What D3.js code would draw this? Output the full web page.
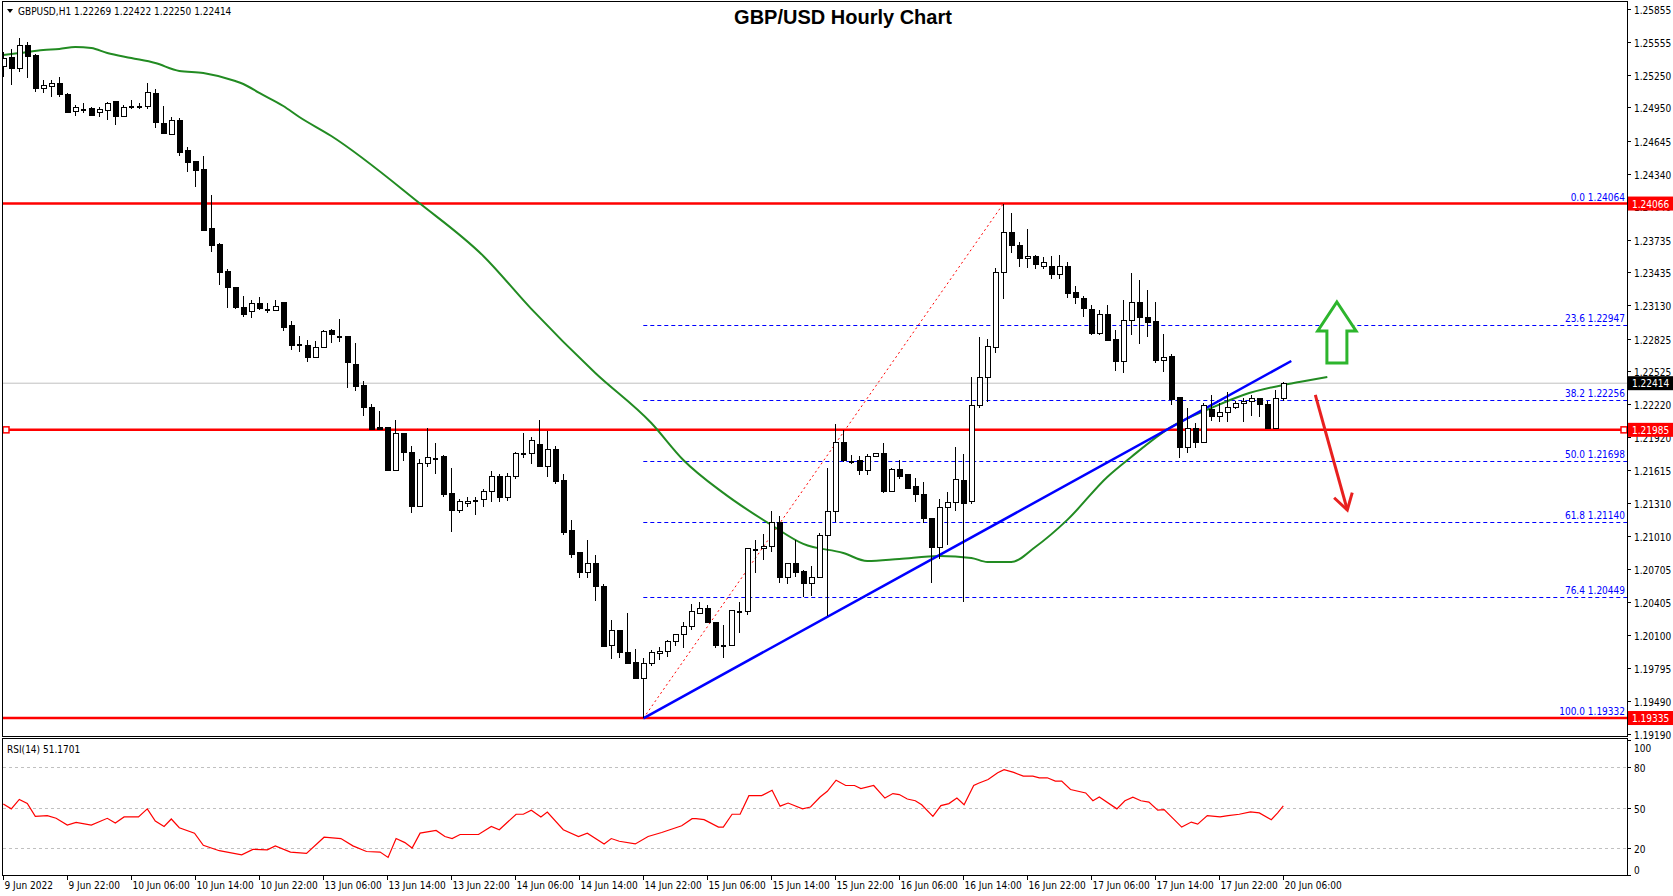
<!DOCTYPE html>
<html>
<head>
<meta charset="utf-8">
<script src="https://cdn.jsdelivr.net/npm/d3@7"></script>
<style>
  body { margin: 0; background: #fff; }
  text { font-family: "DejaVu Sans Condensed", "DejaVu Sans", sans-serif; }
</style>
</head>
<body>
<svg id="chart" width="1673" height="896"></svg>
<script>
// hourly candles, bar 0 = 9 Jun 14:00
const open = [1.2533,1.2541,1.2531,1.2552,1.2543,1.2512,1.2514,1.2517,1.2507,1.2491,
  1.2494,1.2494,1.2490,1.2492,1.2500,1.2487,1.2495,1.2496,1.2496,1.2508,
  1.2480,1.2470,1.2483,1.2455,1.2445,1.2438,1.2384,1.2369,1.2344,1.2329,
  1.2311,1.2307,1.2315,1.2310,1.2308,1.2316,1.2294,1.2276,1.2276,1.2265,
  1.2274,1.2290,1.2285,1.2284,1.2259,1.2239,1.2219,1.2201,1.2201,1.2161,
  1.2195,1.2178,1.2128,1.2168,1.2173,1.2174,1.2140,1.2124,1.2131,1.2133,
  1.2134,1.2142,1.2156,1.2136,1.2156,1.2177,1.2177,1.2185,1.2165,1.2180,
  1.2152,1.2106,1.2086,1.2067,1.2076,1.2054,1.2000,1.2014,1.1994,1.1985,
  1.1970,1.1984,1.1993,1.1995,1.2004,1.2010,1.2018,1.2030,1.2034,1.2021,
  1.2001,1.2000,1.2032,1.2031,1.2088,1.2089,1.2091,1.2113,1.2063,1.2076,
  1.2068,1.2057,1.2063,1.2101,1.2123,1.2187,1.2170,1.2170,1.2161,1.2174,
  1.2177,1.2142,1.2162,1.2157,1.2146,1.2139,1.2117,1.2090,1.2127,1.2132,
  1.2152,1.2133,1.2221,1.2247,1.2274,1.2343,1.2380,1.2368,1.2356,1.2358,
  1.2349,1.2349,1.2341,1.2349,1.2325,1.2319,1.2309,1.2287,1.2305,1.2282,
  1.2261,1.2299,1.2316,1.2302,1.2298,1.2262,1.2266,1.2228,1.2182,1.2200,
  1.2187,1.2217,1.2211,1.2214,1.2219,1.2223,1.2225,1.2227,1.2222,1.2200,1.22269];
const high = [1.2546,1.2549,1.2559,1.2555,1.2544,1.2520,1.2520,1.2523,1.2508,1.2497,
  1.2499,1.2495,1.2495,1.2500,1.2500,1.2497,1.2502,1.2499,1.2517,1.2512,
  1.2496,1.2486,1.2485,1.2459,1.2445,1.2450,1.2414,1.2370,1.2346,1.2329,
  1.2322,1.2318,1.2321,1.2315,1.2318,1.2316,1.2299,1.2285,1.2281,1.2280,
  1.2290,1.2291,1.2300,1.2285,1.2278,1.2243,1.2222,1.2216,1.2201,1.2208,
  1.2196,1.2184,1.2172,1.2200,1.2186,1.2175,1.2163,1.2135,1.2137,1.2137,
  1.2144,1.2161,1.2158,1.2159,1.2178,1.2196,1.2192,1.2208,1.2197,1.2184,
  1.2158,1.2116,1.2086,1.2097,1.2083,1.2057,1.2024,1.2014,1.2030,1.1997,
  1.1989,1.1996,1.1999,1.2005,1.2011,1.2022,1.2038,1.2040,1.2037,1.2022,
  1.2019,1.2032,1.2040,1.2089,1.2097,1.2103,1.2124,1.2119,1.2076,1.2097,
  1.2070,1.2073,1.2104,1.2163,1.2204,1.2198,1.2175,1.2174,1.2176,1.2177,
  1.2186,1.2163,1.2171,1.2157,1.2154,1.2151,1.2117,1.2135,1.2141,1.2183,
  1.2176,1.2247,1.2284,1.2282,1.2347,1.24064,1.2398,1.2371,1.2383,1.2359,
  1.2357,1.2358,1.2359,1.2353,1.2331,1.2322,1.2313,1.2309,1.2313,1.2290,
  1.2318,1.2343,1.2336,1.2327,1.2316,1.2287,1.2268,1.2229,1.2219,1.2205,
  1.2223,1.2231,1.2223,1.2233,1.2225,1.2228,1.2231,1.2228,1.2225,1.2235,1.22422];
const low = [1.2523,1.2516,1.2528,1.2522,1.2509,1.2508,1.2505,1.2505,1.2490,1.2487,
  1.2490,1.2487,1.2486,1.2483,1.2479,1.2486,1.2494,1.2494,1.2494,1.2476,
  1.2471,1.2470,1.2450,1.2436,1.2422,1.2382,1.2362,1.2332,1.2311,1.2310,
  1.2302,1.2301,1.2309,1.2306,1.2308,1.2289,1.2272,1.2270,1.2261,1.2265,
  1.2274,1.2278,1.2279,1.2237,1.2234,1.2211,1.2199,1.2198,1.2161,1.2161,
  1.2170,1.2122,1.2128,1.2164,1.2158,1.2137,1.2105,1.2122,1.2128,1.2120,
  1.2128,1.2132,1.2132,1.2133,1.2153,1.2173,1.2167,1.2164,1.2155,1.2149,
  1.2102,1.2081,1.2062,1.2062,1.2041,1.1999,1.1988,1.1989,1.1984,1.1969,
  1.19332,1.1981,1.1987,1.1990,1.2000,1.1998,1.2014,1.2029,1.2021,1.1998,
  1.1989,1.2000,1.2012,1.2028,1.2067,1.2079,1.2086,1.2058,1.2057,1.2063,
  1.2045,1.2046,1.2062,1.2027,1.2114,1.2169,1.2167,1.2157,1.2157,1.2174,
  1.2140,1.2141,1.2153,1.2145,1.2132,1.2113,1.2058,1.2080,1.2093,1.2124,
  1.2040,1.2130,1.2219,1.2224,1.2269,1.2319,1.2361,1.2348,1.2347,1.2346,
  1.2346,1.2337,1.2337,1.2320,1.2314,1.2302,1.2286,1.2286,1.2280,1.2253,
  1.2251,1.2286,1.2277,1.2284,1.2260,1.2252,1.2221,1.2173,1.2177,1.2182,
  1.2186,1.2207,1.2206,1.2206,1.2218,1.2206,1.2211,1.2210,1.2200,1.2200,1.22250];
const close = [1.2540,1.2531,1.2552,1.2542,1.2512,1.2515,1.2517,1.2507,1.2490,1.2495,
  1.2494,1.2488,1.2493,1.2499,1.2487,1.2495,1.2496,1.2495,1.2509,1.2481,
  1.2471,1.2483,1.2454,1.2444,1.2437,1.2382,1.2368,1.2343,1.2329,1.2311,
  1.2305,1.2315,1.2310,1.2309,1.2312,1.2293,1.2276,1.2277,1.2265,1.2274,
  1.2289,1.2286,1.2285,1.2260,1.2238,1.2219,1.2199,1.2199,1.2161,1.2195,
  1.2178,1.2128,1.2168,1.2173,1.2173,1.2139,1.2124,1.2133,1.2133,1.2134,
  1.2142,1.2156,1.2136,1.2156,1.2177,1.2177,1.2189,1.2165,1.2180,1.2151,
  1.2104,1.2084,1.2067,1.2076,1.2054,1.1999,1.2014,1.1994,1.1984,1.1970,
  1.1984,1.1994,1.1995,1.2004,1.2010,1.2018,1.2031,1.2034,1.2021,1.2000,
  1.2001,1.2032,1.2031,1.2089,1.2089,1.2091,1.2113,1.2063,1.2076,1.2067,
  1.2057,1.2063,1.2101,1.2123,1.2187,1.2170,1.2170,1.2161,1.2174,1.2177,
  1.2142,1.2162,1.2156,1.2145,1.2139,1.2117,1.2090,1.2127,1.2132,1.2153,
  1.2131,1.2221,1.2247,1.2275,1.2343,1.2380,1.2368,1.2356,1.2358,1.2351,
  1.2352,1.2341,1.2349,1.2324,1.2320,1.2310,1.2287,1.2305,1.2281,1.2261,
  1.2299,1.2316,1.2302,1.2297,1.2262,1.2265,1.2226,1.2182,1.2200,1.2187,
  1.2221,1.2211,1.2214,1.2219,1.2223,1.2225,1.2227,1.2222,1.2200,1.2227,1.22414];

// moving average (green), sampled at bar positions
const maBar = [0,2,5,7,9,11,13,16,19,22,25,29,30,32,35,37,41,52,60,66,74,81,85,90,96,100,105,108,112,117,121,123,126,129,133,138,141,146,151,155,160,162,165.5];
const maVal = [1.25432,1.25450,1.25478,1.25487,1.25506,1.25496,1.25450,1.25404,1.25358,1.25285,1.25267,1.25193,1.25165,1.25083,1.24963,1.24862,1.24687,1.24071,1.23584,1.23097,1.22508,1.22048,1.21708,1.21405,1.21110,1.20936,1.20853,1.20779,1.20798,1.20825,1.20807,1.20770,1.20770,1.20908,1.21157,1.21552,1.21736,1.22012,1.22186,1.22306,1.22398,1.22425,1.22470];

// RSI(14)
const rsiBar = [0,1,2,3,4,5.5,6.6,8,9.1,11,13,14,15.1,16.9,18,19,20.1,21,22,23.9,25,27,29.8,31.2,33,34,35.9,37.9,40.1,42.2,43.7,45.4,47.1,48.1,49.1,50.2,51.1,52.1,54.1,55.2,56.1,57.1,59.4,61,62,64.1,65,66,67.2,68,70,71.9,73,75.1,76,77,79,80.6,82.3,84.8,86.1,86.6,87.6,89.4,90,91.1,92.1,93.2,94.8,96.1,97.1,98.1,99.9,100.9,102.1,103,104.1,105.3,106.4,107.2,108.8,110.2,111.2,112,113,114,114.8,116.2,117.2,118.2,119.2,120.1,121.3,121.9,123.1,124.3,125.1,126.3,127.5,128.7,129.5,130.5,131.5,132.3,133.4,135.3,136.2,137,139.2,140.2,141.2,142.2,143.2,144.3,145.1,147.3,148.5,149.3,150.5,152.1,153.1,154.5,155.9,157,158.5,159.3,160];
const rsiVal = [52.6,49,56,53,43.4,44,42,37,39,37,42,38.5,43,43,49,40,36,41.5,35,31,22,18,15,19,18.6,21.6,17,16,28,27,21.6,17.4,17,13,27,24,20,31,33,28.5,27,30,30,36,33.5,45,45,48,43,46.6,33.5,28.5,31,23,27,25,23,28.5,31.5,36.5,41.7,41.7,41,35.5,35.5,45,45,58.8,58.8,62.8,51,53.3,49,50.4,57.8,62,70.2,66.3,66.3,64,66.3,57,60.3,59.6,56.3,55,52,43.4,51.4,52.9,57,52,66.3,68,70.7,75.7,78,76,73.2,73.2,72,72,69.5,69.5,63.3,60.8,55,57.8,49,55,57.6,55,54,48,48.4,35.5,39.2,37.7,44,43,44,45,46.7,46,41,46,51.17];

const priceTicks = [1.25855,1.25555,1.25250,1.24950,1.24645,1.24340,1.24040,1.23735,1.23435,1.23130,1.22825,1.22525,1.22220,1.21920,1.21615,1.21310,1.21010,1.20705,1.20405,1.20100,1.19795,1.19490,1.19190];
const timeLabels = ["9 Jun 2022","9 Jun 22:00","10 Jun 06:00","10 Jun 14:00","10 Jun 22:00","13 Jun 06:00","13 Jun 14:00","13 Jun 22:00","14 Jun 06:00","14 Jun 14:00","14 Jun 22:00","15 Jun 06:00","15 Jun 14:00","15 Jun 22:00","16 Jun 06:00","16 Jun 14:00","16 Jun 22:00","17 Jun 06:00","17 Jun 14:00","17 Jun 22:00","20 Jun 06:00"];

const fibLevels = [0.0, 23.6, 38.2, 50.0, 61.8, 76.4, 100.0];
const fibPrices = [1.24064, 1.22947, 1.22256, 1.21698, 1.21140, 1.20449, 1.19332];
const fibFrom = 80, fibHighBar = 125;
const redLevels = [1.24066, 1.21985, 1.19335];
const lastPrice = 1.22414;
const trendBar = [80, 161], trendVal = [1.19332, 1.22618];
const upArrow = { bar: 166.7, tip: 1.23161, base: 1.22894, bottom: 1.22600, head: 2.4, shaft: 1.25 };
const downArrow = { bar: [164, 168], val: [1.22306, 1.21248] };

const svg = d3.select('#chart');
const left = 3, right = 1627, mainTop = 2, mainBottom = 736, rsiTop = 739, rsiBottom = 875;

const x = d3.scaleLinear().domain([0, 160]).range([3.3, 1283.3]);
const y = d3.scaleLinear().domain([1.25855, 1.19795]).range([9, 668]);
const yr = d3.scaleLinear().domain([0, 100]).range([rsiBottom, rsiTop + 1]);

svg.append('defs').append('clipPath').attr('id', 'mainClip')
  .append('rect').attr('x', left).attr('y', mainTop).attr('width', right - left).attr('height', mainBottom - mainTop);

// panel frames
svg.append('rect').attr('x', left - 0.5).attr('y', mainTop - 0.5).attr('width', right - left + 1).attr('height', mainBottom - mainTop + 1)
  .attr('fill', 'none').attr('stroke', '#000');
svg.append('rect').attr('x', left - 0.5).attr('y', rsiTop - 0.5).attr('width', right - left + 1).attr('height', rsiBottom - rsiTop + 1)
  .attr('fill', 'none').attr('stroke', '#000');

const main = svg.append('g').attr('clip-path', 'url(#mainClip)');

// last price line
main.append('line').attr('x1', left).attr('x2', right).attr('y1', y(lastPrice)).attr('y2', y(lastPrice))
  .attr('stroke', '#c0c0c0');

// fib lines
fibPrices.forEach((p, k) => {
  if (k === 0 || k === fibPrices.length - 1) return;
  main.append('line').attr('x1', x(fibFrom)).attr('x2', right).attr('y1', Math.round(y(p)) + 0.5).attr('y2', Math.round(y(p)) + 0.5)
    .attr('stroke', '#0000ff').attr('stroke-dasharray', '4,3');
});
main.append('line').attr('x1', x(fibFrom)).attr('y1', y(fibPrices[6])).attr('x2', x(fibHighBar)).attr('y2', y(fibPrices[0]))
  .attr('stroke', '#ff0000').attr('stroke-dasharray', '2,3');

// red levels
redLevels.forEach(p => {
  main.append('line').attr('x1', left).attr('x2', right).attr('y1', y(p)).attr('y2', y(p))
    .attr('stroke', '#ff0000').attr('stroke-width', 2.5);
});
[left + 3, right - 3].forEach(cx => {
  main.append('rect').attr('x', cx - 3).attr('y', y(redLevels[1]) - 3).attr('width', 6).attr('height', 6)
    .attr('fill', '#fff').attr('stroke', '#ff0000').attr('stroke-width', 1.5);
});

// moving average
const ma = maBar.map((b, k) => [b, maVal[k]]);
main.append('path').datum(ma)
  .attr('d', d3.line().x(d => x(d[0])).y(d => y(d[1])).curve(d3.curveMonotoneX))
  .attr('fill', 'none').attr('stroke', '#228b22').attr('stroke-width', 2);

// trend line
main.append('line').attr('x1', x(trendBar[0])).attr('y1', y(trendVal[0])).attr('x2', x(trendBar[1])).attr('y2', y(trendVal[1]))
  .attr('stroke', '#0000ff').attr('stroke-width', 2.5);

// candles
const candles = main.append('g').attr('shape-rendering', 'crispEdges');
open.forEach((o, i) => {
  const c = close[i], cx = Math.round(x(i)) + 0.5;
  const bull = c >= o;
  candles.append('line').attr('x1', cx).attr('x2', cx).attr('y1', y(high[i])).attr('y2', y(low[i])).attr('stroke', '#000');
  const top = y(Math.max(o, c)), bot = y(Math.min(o, c));
  if (bot - top < 1.5) {
    candles.append('line').attr('x1', cx - 2.5).attr('x2', cx + 2.5).attr('y1', Math.round(top) + 0.5).attr('y2', Math.round(top) + 0.5)
      .attr('stroke', '#000').attr('stroke-width', 2);
  } else {
    candles.append('rect').attr('x', cx - 2.5).attr('y', top).attr('width', 5).attr('height', bot - top)
      .attr('fill', bull ? '#fff' : '#000').attr('stroke', '#000');
  }
});

// arrows
const ua = upArrow;
const upPts = [
  [ua.bar, ua.tip], [ua.bar + ua.head, ua.base], [ua.bar + ua.shaft, ua.base], [ua.bar + ua.shaft, ua.bottom],
  [ua.bar - ua.shaft, ua.bottom], [ua.bar - ua.shaft, ua.base], [ua.bar - ua.head, ua.base]
];
main.append('polygon').attr('points', upPts.map(d => [x(d[0]), y(d[1])].join(',')).join(' '))
  .attr('fill', '#fff').attr('stroke', '#2db52d').attr('stroke-width', 3).attr('stroke-linejoin', 'miter');

const x0 = x(downArrow.bar[0]), y0 = y(downArrow.val[0]), x1 = x(downArrow.bar[1]), y1 = y(downArrow.val[1]);
main.append('line').attr('x1', x0).attr('y1', y0).attr('x2', x1).attr('y2', y1)
  .attr('stroke', '#e8201f').attr('stroke-width', 3);
const ang = Math.atan2(y1 - y0, x1 - x0);
const hl = 18;
main.append('polyline').attr('points', [
  [x1 - hl * Math.cos(ang - 0.55), y1 - hl * Math.sin(ang - 0.55)], [x1, y1],
  [x1 - hl * Math.cos(ang + 0.55), y1 - hl * Math.sin(ang + 0.55)]].map(d => d.join(',')).join(' '))
  .attr('fill', 'none').attr('stroke', '#e8201f').attr('stroke-width', 3);

// fib labels
fibPrices.forEach((p, k) => {
  svg.append('text').attr('x', right - 2).attr('y', y(p) - 3).attr('text-anchor', 'end')
    .attr('font-size', 10).attr('fill', '#0000ff').text(fibLevels[k].toFixed(1) + ' ' + p.toFixed(5));
});

// price axis
priceTicks.forEach(p => {
  const ty = Math.round(y(p)) + 0.5;
  svg.append('line').attr('x1', right).attr('x2', right + 4).attr('y1', ty).attr('y2', ty).attr('stroke', '#000');
  svg.append('text').attr('x', right + 7).attr('y', ty + 4).attr('font-size', 10).attr('fill', '#000').text(p.toFixed(5));
});
const tag = (p, bg) => {
  svg.append('rect').attr('x', right + 1).attr('y', y(p) - 7).attr('width', 45).attr('height', 14).attr('fill', bg);
  svg.append('text').attr('x', right + 5).attr('y', y(p) + 4).attr('font-size', 10).attr('fill', '#fff').text(p.toFixed(5));
};
redLevels.forEach(p => tag(p, '#ff0000'));
tag(lastPrice, '#000');

// RSI panel
[80, 50, 20].forEach(v => {
  svg.append('line').attr('x1', left).attr('x2', right).attr('y1', Math.round(yr(v)) + 0.5).attr('y2', Math.round(yr(v)) + 0.5)
    .attr('stroke', '#c0c0c0').attr('stroke-dasharray', '3,3');
});
const rsi = rsiBar.map((b, k) => [b, rsiVal[k]]);
svg.append('path').datum(rsi)
  .attr('d', d3.line().x(d => x(d[0])).y(d => yr(d[1])))
  .attr('fill', 'none').attr('stroke', '#ff0000').attr('stroke-width', 1.2);
[[100, 7], [80, 0], [50, 0], [20, 0], [0, -6]].forEach(([v, off]) => {
  const ty = Math.round(yr(v)) + 0.5;
  svg.append('line').attr('x1', right).attr('x2', right + 4).attr('y1', ty).attr('y2', ty).attr('stroke', '#000');
  svg.append('text').attr('x', right + 7).attr('y', ty + 4 + off).attr('font-size', 10).text(v);
});
svg.append('text').attr('x', 7).attr('y', 753).attr('font-size', 10).text('RSI(14) 51.1701');

// time axis
timeLabels.forEach((t, k) => {
  const tx = Math.round(x(k * 8)) + 0.5;
  svg.append('line').attr('x1', tx).attr('x2', tx).attr('y1', rsiBottom).attr('y2', rsiBottom + 5).attr('stroke', '#000');
  svg.append('text').attr('x', tx + 1).attr('y', rsiBottom + 14).attr('font-size', 10).text(t);
});

// header texts
svg.append('path').attr('d', 'M7,9 L13,9 L10,13 Z').attr('fill', '#000');
svg.append('text').attr('x', 18).attr('y', 15).attr('font-size', 10).text('GBPUSD,H1  1.22269 1.22422 1.22250 1.22414');
svg.append('text').attr('x', 843).attr('y', 24).attr('text-anchor', 'middle')
  .style('font-family', '"Liberation Sans", Arial, sans-serif').attr('font-size', 20).attr('font-weight', 'bold')
  .text('GBP/USD Hourly Chart');
</script>
</body>
</html>
